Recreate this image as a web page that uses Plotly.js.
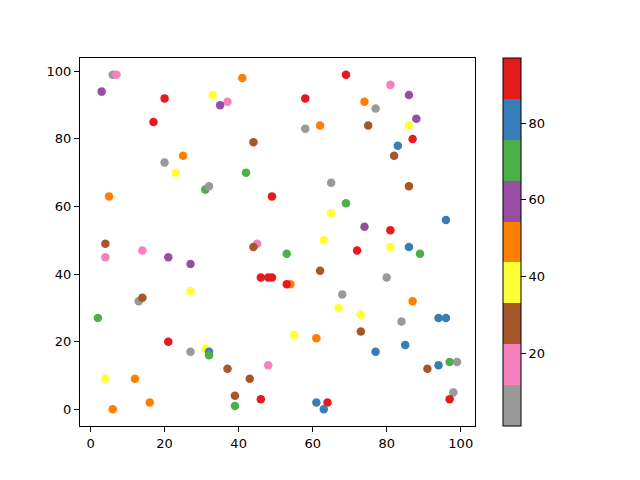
<!DOCTYPE html>
<html>
<head>
<meta charset="utf-8">
<script src="https://cdn.plot.ly/plotly-3.0.1.min.js"></script>
<style>html,body{margin:0;padding:0;background:#fff;}#chart{width:640px;height:480px;}</style>
</head>
<body>
<div id="chart"></div>
<script>
// Data
const xs = [6,7,3,20,17,41,33,37,35,44,25,20,23,42,31,32,5,49,
  69,81,86,58,74,77,88,86,58,62,75,87,83,82,65,86,69,65,96,74,81,63,
  4,4,14,21,27,45,44,46,48,49,27,13,14,2,21,27,31,32,32,37,48,43,4,12,39,46,39,16,6,
  53,72,81,86,89,62,80,54,53,68,87,67,73,94,96,84,73,55,61,85,77,94,97,99,91,98,97,61,64,63];
const ys = [99,99,94,92,85,98,93,91,90,79,75,73,70,70,65,66,63,63,
  99,96,93,92,91,89,86,84,83,84,84,80,78,75,67,66,61,58,56,54,53,50,
  49,45,47,45,43,49,48,39,39,39,35,32,33,27,20,17,18,17,16,12,13,9,9,9,4,3,1,2,0,
  46,47,48,48,46,41,39,37,37,34,32,30,28,27,27,26,23,22,21,19,17,13,14,14,12,5,3,2,2,0];
const cs = [6,17,60,92,92,49,38,17,60,28,49,6,38,70,70,6,49,92,
  92,17,60,92,49,6,60,38,6,49,28,92,81,28,6,28,70,38,81,60,92,38,
  28,17,17,60,60,17,28,92,92,92,38,6,28,70,92,6,38,81,70,28,17,28,38,49,28,92,70,49,49,
  70,92,38,81,70,28,6,49,92,6,49,38,38,81,81,6,28,38,49,81,81,81,70,6,28,6,92,81,92,81];
const colorTicks = [20,40,60,80];
const xTicks = [0,20,40,60,80,100];
const yTicks = [0,20,40,60,80,100];

// Set1 reversed, discretised into 9 bands
const set1r = ['#999999','#f781bf','#a65628','#ffff33','#ff7f00','#984ea3','#4daf4a','#377eb8','#e41a1c'];
const colorscale = [];
set1r.forEach((c,i)=>{ colorscale.push([i/9,c]); colorscale.push([(i+1)/9,c]); });

const font = {family:'DejaVu Sans, sans-serif', size:13, color:'#000'};

const trace = {
  type:'scatter', mode:'markers', x:xs, y:ys,
  marker:{
    size:8.5, color:cs, colorscale:colorscale, cmin:1, cmax:97,
    line:{width:0},
    showscale:true,
    colorbar:{
      x:1.071, xanchor:'left', xpad:0, ypad:0, y:0.5, yanchor:'middle',
      len:1, lenmode:'fraction', thickness:18, thicknessmode:'pixels',
      outlinewidth:1, outlinecolor:'#000',
      tickmode:'array', tickvals:colorTicks, ticktext:colorTicks.map(String),
      ticks:'outside', ticklen:5, tickwidth:1, tickcolor:'#000',
      tickfont:font
    }
  },
  hoverinfo:'none'
};

const axisCommon = {
  showgrid:false, zeroline:false, showline:true, linecolor:'#000', linewidth:1, mirror:true,
  ticks:'outside', ticklen:5, tickwidth:1, tickcolor:'#000', tickfont:font, tickmode:'array'
};

const layout = {
  width:640, height:480,
  margin:{l:80, r:165, t:58, b:54},
  paper_bgcolor:'#fff', plot_bgcolor:'#fff',
  showlegend:false,
  xaxis:Object.assign({}, axisCommon, {range:[-2.85,103.85], tickvals:xTicks, ticktext:xTicks.map(String)}),
  yaxis:Object.assign({}, axisCommon, {range:[-4.95,103.95], tickvals:yTicks, ticktext:yTicks.map(String)}),
  font:font
};

Plotly.newPlot('chart',[trace],layout,{staticPlot:true, displayModeBar:false});
</script>
</body>
</html>
